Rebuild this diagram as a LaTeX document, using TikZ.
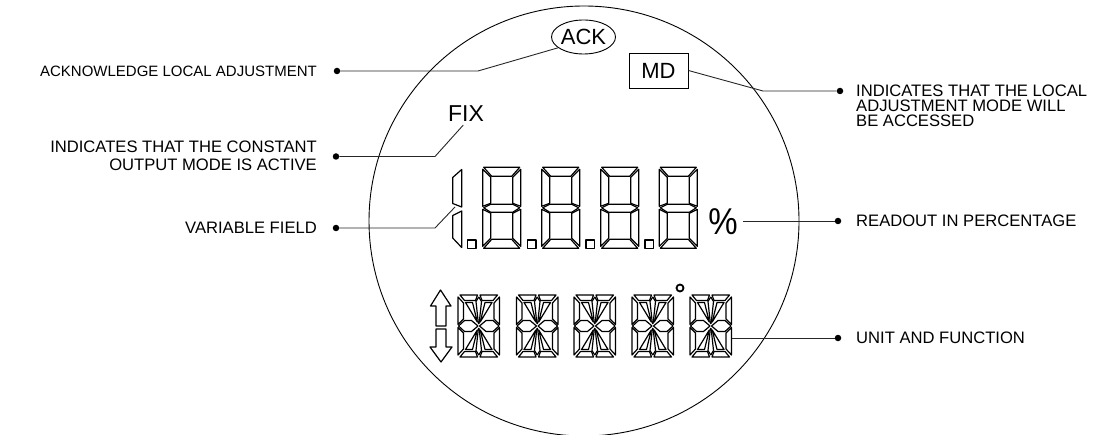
\documentclass[tikz,border=0pt]{standalone}
\usepackage{fontspec}
\setmainfont{Liberation Sans}
\usepackage{graphicx}
\usetikzlibrary{positioning,shapes.geometric}
\tikzset{
  seg/.style={draw=black, line width=1.2pt, line join=round},
  leader/.style={draw=black!85, line width=0.9pt},
  tagdot/.style={circle, fill=black, inner sep=0pt, minimum size=6.5pt},
  lefttag/.style={anchor=east, align=right, inner sep=0pt, font=\fontsize{16.6}{18}\selectfont},
  righttag/.style={anchor=west, align=left, inner sep=0pt, font=\fontsize{16.6}{15}\selectfont},
  pics/sevenseg/.style={code={
    \draw[seg] (1,0) -- (37,0) -- (29,9) -- (9,9) -- cycle;
    \draw[seg] (1,81) -- (37,81) -- (29,72) -- (9,72) -- cycle;
    \draw[seg] (1,40.5) -- (8,37) -- (30,37) -- (37,40.5) -- (30,45) -- (8,45) -- cycle;
    \foreach \sx/\ox in {1/0,-1/38} {
      \draw[seg,xshift=\ox pt,xscale=\sx] (0,2) -- (8,10) -- (8,36) -- (0,39) -- cycle;
      \draw[seg,xshift=\ox pt,xscale=\sx] (0,42) -- (8,46) -- (8,71) -- (0,79) -- cycle;
    }
  }},
  pics/alnumseg/.style={code={
    \foreach \sx/\ox in {1/0,-1/41.5} {
      \foreach \sy/\oy in {1/0,-1/62} {
        \begin{scope}[xshift=\ox pt,yshift=-\oy pt,xscale=\sx,yscale=\sy]
          \draw[seg] (2,0) -- (19.5,0) -- (17.5,5.5) -- (6.5,5.5) -- cycle;
          \draw[seg] (0,2) -- (5.5,8) -- (5.5,24) -- (0,29.5) -- cycle;
          \draw[seg] (0.5,31) -- (6.5,25.5) -- (13.5,25.5) -- (20,31);
          \draw[seg] (7.5,7.5) -- (14.5,7.5) -- (19.3,27) -- cycle;
          \draw[seg] (20.75,2) -- (18,6.5) -- (20.2,27) -- (20.75,29);
        \end{scope}
      }
    }
  }}
}
\begin{document}
\begin{tikzpicture}[x=1pt,y=-1pt]
\useasboundingbox (0,0) rectangle (1107,435);
\draw[black, line width=0.9pt] (584,221) circle (215pt);
% lamps
\node[ellipse, draw, line width=0.9pt, inner sep=0pt, minimum width=59pt, minimum height=34pt, font=\fontsize{22}{22}\selectfont] (ack) at (583.5,37) {ACK};
\node[rectangle, draw, line width=0.9pt, inner sep=0pt, minimum width=59pt, minimum height=35pt, font=\fontsize{22}{22}\selectfont] (md) at (658.5,70.5) {MD};
\node[inner sep=3pt, font=\fontsize{23}{23}\selectfont] (fix) at (466,114) {FIX};
\node[inner sep=5pt, font=\fontsize{33}{33}\selectfont] (percent) at (723,222) {\scalebox{1}[1.13]{\%}};
% digits
\foreach \x in {482.7,541.7,600.7,659.3} \pic at (\x,167.3) {sevenseg};
\foreach \x in {467.5,527.5,586,645} \draw[seg] (\x,240) rectangle +(8.5,8.5);
\draw[seg] (461.7,169.5) -- (452.7,177.5) -- (452.7,203.5) -- (461.7,207) -- cycle;
\draw[seg] (461.7,211) -- (452.7,215.5) -- (452.7,238) -- (461.7,247.5) -- cycle;
\foreach \x in {458,516.5,574,632,690} \pic at (\x,295) {alnumseg};
\draw[seg] (440.5,290) -- (451,306) -- (446,306) -- (446,326) -- (436,326) -- (436,306) -- (430.5,306) -- cycle;
\draw[seg] (441,362) -- (452,347) -- (446,347) -- (446,329) -- (436,329) -- (436,347) -- (430,347) -- cycle;
\node[circle, draw, line width=1.8pt, inner sep=0pt, minimum size=7pt] (degree) at (680,288) {};
% callouts
\node[lefttag, font=\fontsize{15}{18}\selectfont] (ackText) at (317,71) {ACKNOWLEDGE LOCAL ADJUSTMENT};
\node[lefttag] (fixText) at (317,156) {INDICATES THAT THE CONSTANT\\OUTPUT MODE IS ACTIVE};
\node[lefttag] (varText) at (317,228) {VARIABLE FIELD};
\node[righttag] (mdText) at (856,106) {INDICATES THAT THE LOCAL\\ADJUSTMENT MODE WILL\\BE ACCESSED};
\node[righttag] (percentText) at (856,221) {READOUT IN PERCENTAGE};
\node[righttag] (unitText) at (856,338) {UNIT AND FUNCTION};
\node[tagdot] (ackDot) at (337,71) {};
\node[tagdot] (fixDot) at (336,156.5) {};
\node[tagdot] (varDot) at (336,228) {};
\node[tagdot] (mdDot) at (840,91) {};
\node[tagdot] (percentDot) at (838,221) {};
\node[tagdot] (unitDot) at (838,338) {};
\coordinate (varTip) at (455,207);
\coordinate (unitTip) at (732,338);
\draw[leader] (ackDot) -- (478,71) -- (ack.203);
\draw[leader] (fixDot) -- (435,156.5) -- (fix.-104);
\draw[leader] (varDot) -- (435,228) -- (varTip);
\draw[leader] (mdDot) -- (763,91) -- (md.east);
\draw[leader] (percentDot) -- (percent.east |- percentDot);
\draw[leader] (unitDot) -- (unitTip);
\end{tikzpicture}
\end{document}
